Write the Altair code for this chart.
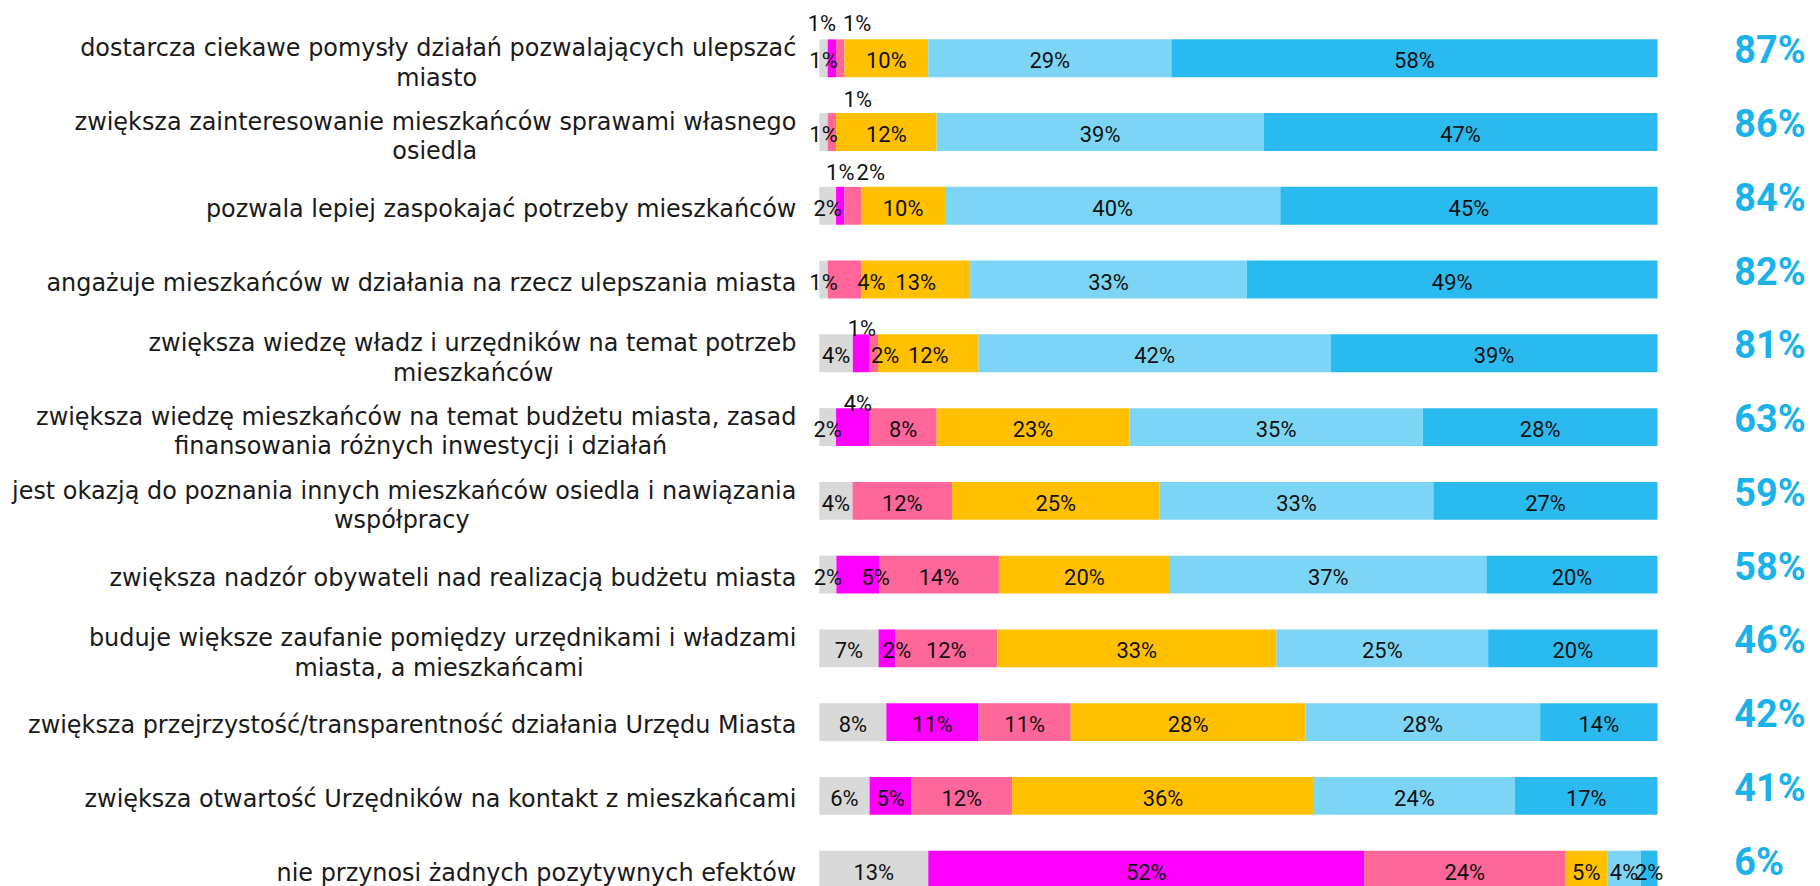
import json
import altair as alt
import pandas as pd

# ---------------- data ----------------
items = [
    "dostarcza ciekawe pomysły działań pozwalających ulepszać|miasto",
    "zwiększa zainteresowanie mieszkańców sprawami własnego|osiedla",
    "pozwala lepiej zaspokajać potrzeby mieszkańców",
    "angażuje mieszkańców w działania na rzecz ulepszania miasta",
    "zwiększa wiedzę władz i urzędników na temat potrzeb|mieszkańców",
    "zwiększa wiedzę mieszkańców na temat budżetu miasta, zasad|finansowania różnych  inwestycji i działań",
    "jest okazją do poznania innych mieszkańców osiedla i nawiązania|współpracy",
    "zwiększa nadzór obywateli nad realizacją budżetu miasta",
    "buduje większe zaufanie pomiędzy urzędnikami i władzami|miasta, a mieszkańcami",
    "zwiększa przejrzystość/transparentność działania Urzędu Miasta",
    "zwiększa otwartość Urzędników na kontakt z mieszkańcami",
    "nie przynosi żadnych pozytywnych efektów",
]
series = ["trudno powiedzieć", "zdecydowanie nie", "raczej nie",
          "ani tak, ani nie", "raczej tak", "zdecydowanie tak"]
gray    = [1, 1, 2, 1, 4, 2, 4, 2, 7, 8, 6, 13]
magenta = [1, 0, 1, 0, 2, 4, 0, 5, 2, 11, 5, 52]
pink    = [1, 1, 2, 4, 1, 8, 12, 14, 12, 11, 12, 24]
yellow  = [10, 12, 10, 13, 12, 23, 25, 20, 33, 28, 36, 5]
light   = [29, 39, 40, 33, 42, 35, 33, 37, 25, 28, 24, 4]
dark    = [58, 47, 45, 49, 39, 28, 27, 20, 20, 14, 17, 2]
totals  = [87, 86, 84, 82, 81, 63, 59, 58, 46, 42, 41, 6]

# ---------------- styles ----------------
colors = ["#D9D9D9", "#FF00FF", "#FF6699", "#FFC000", "#7DD5F6", "#2BBAF0"]
TOTAL_COLOR = "#1AB2EA"
# label nudges (row, series index) -> (dx, dy) in pixels, to avoid overlaps
nudges = {(0, 1): (-10, -34), (0, 2): (17, -34), (1, 2): (26, -32),
          (2, 1): (0, -33), (2, 2): (18, -33), (3, 2): (27, 3),
          (4, 1): (24, 3), (4, 2): (-12, -24), (5, 1): (5, -23),
          (7, 1): (18, 3), (8, 1): (10, 3)}

# approximate DejaVu Sans advance widths (em) used to centre second label lines
W = {' ': .318, 'a': .613, 'b': .635, 'c': .55, 'd': .635, 'e': .615, 'f': .352,
     'g': .635, 'h': .634, 'i': .278, 'j': .278, 'k': .579, 'l': .278, 'm': .974,
     'n': .634, 'o': .612, 'p': .635, 'r': .411, 's': .521, 't': .392, 'u': .634,
     'v': .592, 'w': .818, 'x': .592, 'y': .592, 'z': .525, ',': .318, '/': .337,
     'ą': .613, 'ć': .55, 'ę': .615, 'ł': .3, 'ń': .634, 'ó': .612, 'ś': .521,
     'ż': .525, 'ź': .525, 'U': .732, 'M': .863}


def width(s):
    return sum(W.get(ch, .6) for ch in s)


def display(label):
    parts = label.split("|")
    if len(parts) == 2:
        pad = max(0, round((width(parts[0]) - width(parts[1])) / 2 / .318))
        parts[1] = parts[1] + "\u00a0" * pad + "\u200b"
    return "|".join(parts)


disp = [display(s) for s in items]
vals = [gray, magenta, pink, yellow, light, dark]

rows = []
for i, it in enumerate(disp):
    for k, s in enumerate(series):
        rows.append(dict(item=it, row=i, cat=s, order=k, value=vals[k][i],
                         key=f"{i}-{k}", label=f"{vals[k][i]}%"))
df = pd.DataFrame(rows)
cats = pd.DataFrame(dict(item=disp, lines=[len(s.split("|")) for s in items],
                         total=[f"{t}%" for t in totals]))

yenc = alt.Y(
    "item:N", sort=disp, axis=None,
    scale=alt.Scale(range=[0, 888], paddingInner=36 / 74, paddingOuter=18 / 74),
)

base = alt.Chart(df).transform_stack(
    stack="value", groupby=["item"], as_=["x0", "x1"],
    sort=[alt.SortField("order", order="ascending")], offset="normalize",
).transform_calculate(mid="(datum.x0 + datum.x1) / 2")

bars = base.mark_bar().encode(
    x=alt.X("x0:Q", scale=alt.Scale(domain=[0, 1], nice=False, zero=False), axis=None),
    x2="x1:Q",
    y=yenc,
    color=alt.Color("cat:N", scale=alt.Scale(domain=series, range=colors), legend=None),
)

nudged_keys = [f"{r}-{k}" for (r, k) in nudges]
text_style = dict(font="Roboto", fontSize=22, color="#111111", baseline="middle")

labels = base.transform_filter(
    f"datum.value > 0 && indexof({json.dumps(nudged_keys)}, datum.key) < 0"
).mark_text(dy=3, **text_style).encode(x="mid:Q", y=yenc, text="label:N")

layers = [bars, labels]
for (r, k), (dx, dy) in nudges.items():
    layers.append(
        base.transform_filter(f"datum.key == '{r}-{k}'")
        .mark_text(dx=dx, dy=dy, **text_style)
        .encode(x="mid:Q", y=yenc, text="label:N")
    )

# category labels (left), one-line and two-line
cat_style = dict(font="DejaVu Sans", fontSize=24, color="#1a1a1a", align="right",
                 baseline="middle", lineBreak="|", lineHeight=29.5, dx=-23)
for n, dy in [(1, 4), (2, -9)]:
    layers.append(
        alt.Chart(cats).transform_filter(f"datum.lines == {n}")
        .mark_text(dy=dy, **cat_style)
        .encode(x=alt.value(0), y=yenc, text="item:N")
    )

totals_layer = alt.Chart(cats).mark_text(
    font="Roboto", fontWeight="bold", fontSize=38, color=TOTAL_COLOR,
    align="left", baseline="middle", dy=-6,
).encode(x=alt.value(918), y=yenc, text="total:N")
layers.append(totals_layer)

chart = alt.layer(*layers).properties(
    width=841, height=866,
    autosize=alt.AutoSizeParams(type="none"),
    padding={"left": 814, "top": 12, "right": 155, "bottom": 0},
).configure_view(stroke=None)

chart.save("out.html", embed_options={"renderer": "svg", "actions": False})
